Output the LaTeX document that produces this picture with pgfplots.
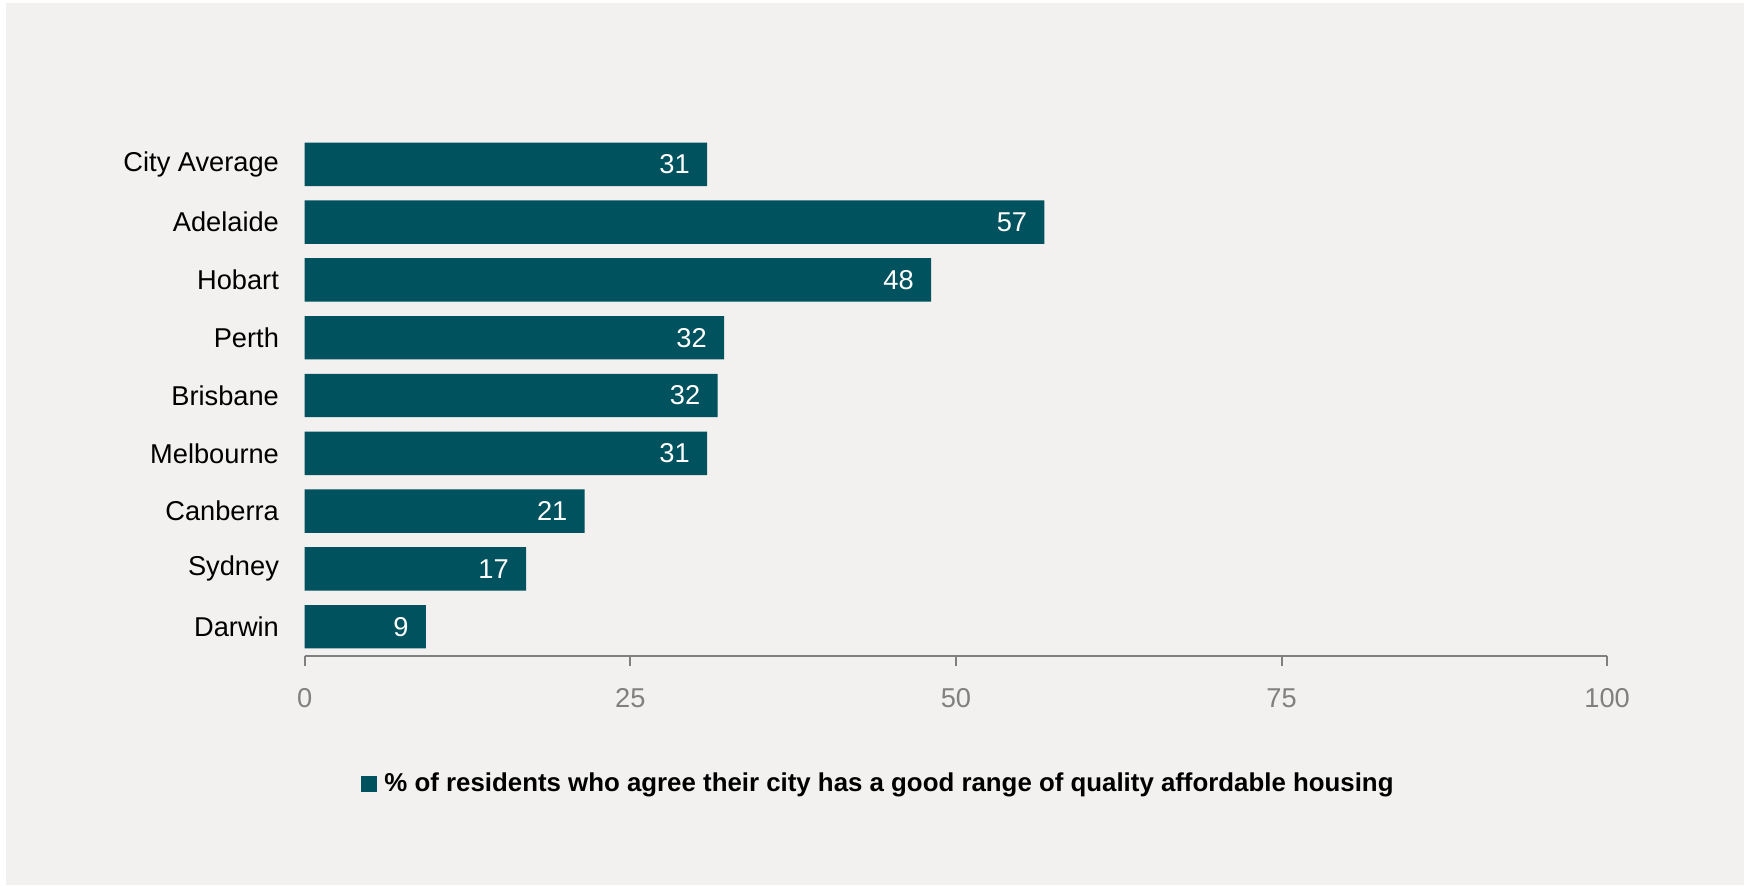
\documentclass[border=0pt]{standalone}
\usepackage{pgfplots}
\usepackage{pgfplotstable}
\pgfplotsset{compat=1.18}
\usepackage{fontspec}
\setmainfont{Liberation Sans}
\definecolor{barcol}{RGB}{0,82,94}
\definecolor{bgcol}{RGB}{242,241,239}
\definecolor{tickgray}{RGB}{128,128,128}

\pgfplotstableread{
y val lab
8 30.9 31
7 56.8 57
6 48.1 48
5 32.2 32
4 31.7 32
3 30.9 31
2 21.5 21
1 17.0 17
0 9.3 9
}\datatable

\newcommand{\chartfont}{\fontsize{7.75pt}{9.3pt}\selectfont}

\begin{document}
\begin{tikzpicture}
\fill[white] (0,0) rectangle (174.4mm,-88.5mm);
\fill[bgcol] (0.6mm,-0.3mm) rectangle (174.4mm,-88.5mm);
\begin{axis}[
  at={(30.47mm,-65.6mm)}, anchor=south west,
  scale only axis, width=130.24mm, height=52.64mm,
  xmin=0, xmax=100, ymin=-0.507, ymax=8.6,
  xbar, bar width=4.34mm,
  axis x line*=bottom, axis y line*=left,
  y axis line style={draw=none},
  x axis line style={tickgray, line width=0.2mm, -},
  xtick={0,25,50,75,100},
  xtick style={tickgray, line width=0.2mm},
  tick align=outside, major tick length=0.95mm,
  ytick={0,...,8},
  yticklabels={Darwin,Sydney,Canberra,Melbourne,Brisbane,Perth,Hobart,Adelaide,City Average},
  ytick style={draw=none},
  /pgf/number format/assume math mode=true,
  tick label style={font=\chartfont},
  yticklabel style={anchor=east, inner sep=0pt, xshift=-1.56mm},
  xticklabel style={anchor=north, inner sep=0pt, tickgray, yshift=-2.25mm},
  nodes near coords,
  point meta=explicit symbolic,
  nodes near coords align={left},
  nodes near coords style={white, inner sep=0pt, xshift=-1.67mm, font=\chartfont},
  legend style={at={(0.4425,-0.244)}, anchor=center, draw=none, fill=none,
    font=\fontsize{7.35pt}{9pt}\selectfont\bfseries, inner sep=0pt},
  legend image code/.code={\fill[barcol] (0mm,-0.8mm) rectangle (1.6mm,0.8mm);},
]
\addplot[fill=barcol, draw=none] table[x=val, y=y, meta=lab] {\datatable};
\addlegendentry{\% of residents who agree their city has a good range of quality affordable housing}
\end{axis}
\end{tikzpicture}
\end{document}
